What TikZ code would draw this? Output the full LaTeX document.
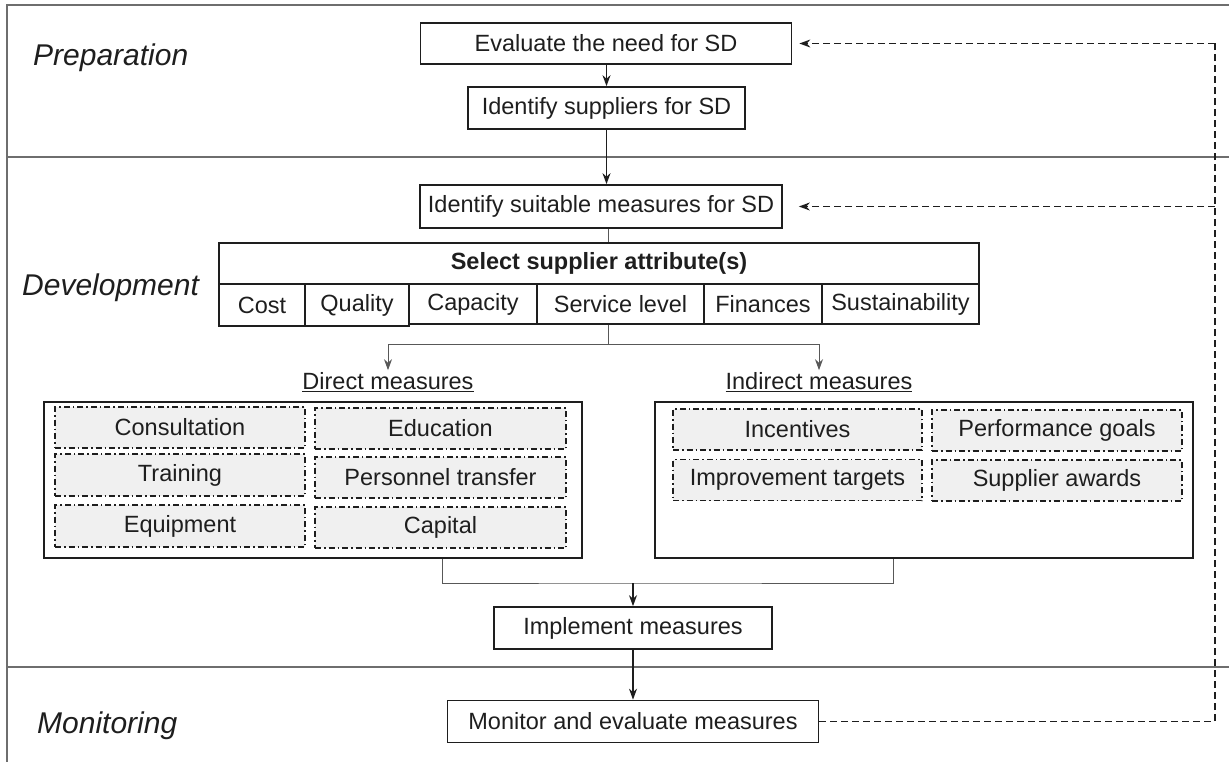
\documentclass[tikz,border=0pt]{standalone}
\usepackage{fontspec}
\setmainfont{Liberation Sans}
\usetikzlibrary{arrows.meta}
\definecolor{ink}{HTML}{1E1E1E}
\definecolor{frame}{HTML}{6E6E6E}
\definecolor{cellfill}{HTML}{F0F0F0}
\tikzset{
  boxtext/.style={font=\fontsize{23.5}{28}\selectfont, text=ink},
  mainbox/.style={boxtext, draw=ink, line width=1.7pt, inner sep=0pt, rectangle},
  cellbox/.style={boxtext, draw=ink, line width=1.4pt, inner sep=0pt, rectangle},
  groupbox/.style={draw=ink, line width=1.6pt, inner sep=0pt, rectangle},
  measurebox/.style={boxtext, draw=ink, fill=cellfill, line width=1.1pt, inner sep=0pt, rectangle,
    dash pattern=on 6pt off 3pt on 1.5pt off 3pt},
  phase/.style={font=\fontsize{30}{36}\selectfont\itshape, text=ink, anchor=base west, inner sep=0pt},
  sublabel/.style={boxtext, inner sep=2pt},
  arr/.style={draw=ink, line width=1.5pt, -{Stealth[length=11pt,width=8pt]}},
  thinline/.style={draw=frame!80!black, line width=1pt},
  thinarr/.style={thinline, -{Stealth[length=11pt,width=8pt]}},
  feedback/.style={draw=ink, line width=1.3pt, dash pattern=on 7pt off 4pt},
  feedarr/.style={feedback, -{Stealth[length=11pt,width=8pt]}},
  lane/.style={draw=frame, line width=1.2pt},
}
\begin{document}
\begin{tikzpicture}[x=1pt,y=-1pt]
\useasboundingbox (0,0) rectangle (1229,762);

% swim lanes
\draw[lane] (1229,5) -- (7,5) -- (7,762);
\draw[lane] (7,157) -- (1229,157);
\draw[lane] (7,667) -- (1229,667);

\node[phase] (lprep) at (33,66) {Preparation};
\node[phase] (ldev) at (22,295) {Development};
\node[phase] (lmon) at (37,733) {Monitoring};

% preparation
\node[mainbox, minimum width=371pt, minimum height=41pt] (ev) at (606,43.5) {Evaluate the need for SD};
\node[mainbox, minimum width=277pt, minimum height=42pt] (is) at (606.5,108) {Identify suppliers for SD};

% development
\node[mainbox, minimum width=362pt, minimum height=43pt] (sm) at (601,206.5) {Identify suitable measures for SD};

\node[cellbox, minimum width=760pt, minimum height=41pt, font=\fontsize{23.5}{28}\selectfont\bfseries] (hdr) at (599,263.5) {Select supplier attribute(s)};
\node[cellbox, minimum width=86pt, minimum height=42pt] (c1) at (262,305) {Cost};
\node[cellbox, minimum width=104pt, minimum height=42pt] (c2) at (357,305) {Quality};
\node[cellbox, minimum width=128pt, minimum height=40pt] (c3) at (473,304) {\raisebox{2pt}{Capacity}};
\node[cellbox, minimum width=167pt, minimum height=40pt] (c4) at (620.5,304) {Service level};
\node[cellbox, minimum width=117pt, minimum height=40pt] (c5) at (763,304) {Finances};
\node[cellbox, minimum width=157pt, minimum height=40pt] (c6) at (900.5,304) {Sustainability};

\node[sublabel] (dm) at (388,382) {\underline{Direct measures}};
\node[sublabel] (im) at (819,382) {\underline{Indirect measures}};

\node[groupbox, minimum width=538pt, minimum height=156pt] (dbox) at (313,480) {};
\node[groupbox, minimum width=538pt, minimum height=156pt] (ibox) at (924,480) {};

\node[measurebox, minimum width=250pt, minimum height=41pt] (d1) at (180,427.5) {Consultation};
\node[measurebox, minimum width=251pt, minimum height=41pt] (d2) at (440.5,428.5) {Education};
\node[measurebox, minimum width=250pt, minimum height=42pt] (d3) at (180,475) {Training};
\node[measurebox, minimum width=251pt, minimum height=41pt] (d4) at (440.5,477.5) {Personnel transfer};
\node[measurebox, minimum width=250pt, minimum height=42pt] (d5) at (180,526) {Equipment};
\node[measurebox, minimum width=251pt, minimum height=41pt] (d6) at (440.5,527.5) {Capital};

\node[measurebox, minimum width=249pt, minimum height=41pt] (i1) at (797.5,429.5) {Incentives};
\node[measurebox, minimum width=250pt, minimum height=41pt] (i2) at (1057,430.5) {Performance goals};
\node[measurebox, minimum width=249pt, minimum height=41pt] (i3) at (797.5,480) {Improvement targets};
\node[measurebox, minimum width=250pt, minimum height=41pt] (i4) at (1057,480.5) {Supplier awards};

\node[mainbox, minimum width=278pt, minimum height=42pt] (imp) at (633,628) {Implement measures};

% monitoring
\node[mainbox, minimum width=371pt, minimum height=42pt] (mon) at (633,721.5) {Monitor and evaluate measures};

% main flow
\draw[arr] (is.north |- ev.south) -- (is.north);
\draw[arr] (is.south) -- (is.south |- sm.north);
\draw[thinline] (608,0 |- sm.south) -- (608,0 |- hdr.north);

\coordinate (split) at (608,344);
\draw[thinline] (608,0 |- c4.south) -- (split);
\draw[thinarr] (split) -| (dm.north);
\draw[thinarr] (split) -| (im.north);

\coordinate (join) at (633,583);
\draw[thinline] (442,0 |- dbox.south) |- (join) -| (893,0 |- ibox.south);
\draw[arr] (join) -- (imp.north);
\draw[arr] (imp.south) -- (imp.south |- mon.north);

% feedback loops
\coordinate (fb) at (1215,0 |- mon.east);
\coordinate (fbtop) at (1215,0 |- ev.east);
\coordinate (fbmid) at (1215,0 |- sm.east);
\draw[feedback] (mon.east) -- (fb) -- (fbtop);
\draw[feedarr] (fbtop) -- ([xshift=7pt]ev.east);
\draw[feedarr] (fbmid) -- ([xshift=16pt]sm.east);
\end{tikzpicture}
\end{document}
